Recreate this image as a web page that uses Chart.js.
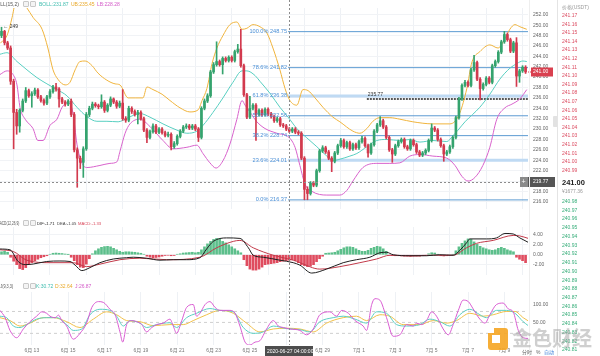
<!DOCTYPE html>
<html><head><meta charset="utf-8">
<script src="https://cdn.jsdelivr.net/npm/chart.js@4/dist/chart.umd.min.js"></script>
<style>
body{margin:0;width:600px;height:356px;overflow:hidden;background:#fff;position:relative;font-family:"Liberation Sans","Noto Sans CJK SC",sans-serif}
canvas{position:absolute;left:0}
.t{position:absolute;font-size:10px;line-height:12px;white-space:nowrap;transform-origin:0 0}
.ic{position:absolute;width:4px;height:4px;border:1px solid #c8c8c8;border-radius:1px;background:#f4f4f4}
</style></head><body>
<canvas id="main" width="557" height="217" style="top:0px"></canvas>
<canvas id="macd" width="557" height="64" style="top:219px"></canvas>
<canvas id="kdj" width="557" height="72" style="top:284px"></canvas>
<div id="overlay"></div>
<script>
// ---------------- DATA ----------------
const dateTickIdx = [10,22,34,46,58,70,82,94,106,118,130,142,154,166];
const dateLabels = ['6月 13','6月 15','6月 17','6月 19','6月 21','6月 23','6月 25','6月 27','6月 29','7月 1','7月 3','7月 5','7月 7','7月 9'];
const mainTicks = [216,218,220,222,224,226,228,230,232,234,236,238,240,242,244,246,248,250,252];
const macdTicks = [-2,0,2,4];
const kdjTicks = [50,100];
const kdjLevels = [20,50,80];

const opens = [248.0,248.8,246.6,245.6,239.2,233.2,230.6,233.6,235.4,237.4,
236.4,236.8,237.5,236.2,235.5,235.0,236.2,237.2,238.1,237.7,
235.8,235.2,234.8,235.4,232.8,226.0,224.4,223.6,226.2,232.8,
234.0,234.8,234.5,234.3,235.2,233.6,234.6,235.8,235.2,234.4,
235.0,232.0,231.7,234.0,233.4,232.8,233.2,232.0,229.8,228.4,
229.5,230.6,229.4,230.0,229.3,228.8,229.0,226.6,227.2,228.6,
229.6,230.4,230.6,230.2,230.6,230.0,228.4,234.0,235.4,236.4,
241.0,242.4,243.0,242.4,243.6,243.2,243.8,243.2,244.9,245.4,
242.2,236.6,232.3,234.0,234.6,232.8,233.6,232.8,233.8,232.9,
232.4,231.6,232.0,230.8,230.6,230.0,229.6,230.0,229.4,229.2,
224.4,218.4,217.6,219.6,219.2,222.0,225.8,226.4,225.6,224.4,
223.8,225.4,226.8,227.8,226.6,227.4,226.2,227.0,226.4,227.6,
228.2,226.8,225.4,227.0,229.6,230.8,231.6,230.4,228.4,226.0,
225.2,226.8,227.6,228.0,226.6,226.2,227.8,227.0,225.6,225.0,
225.4,225.9,227.8,230.2,229.8,228.0,226.8,225.2,225.6,226.6,
228.4,232.2,235.8,238.4,239.0,238.4,241.4,242.8,239.6,237.8,
238.6,239.8,239.0,242.2,243.0,244.8,246.8,248.2,247.2,245.0,
246.6,240.2,241.2,241.9];
const closes = [248.8,246.6,245.6,239.2,233.2,230.6,233.6,235.4,237.4,236.4,
236.8,237.5,236.2,235.5,235.0,236.2,237.2,238.1,237.7,235.8,
235.2,234.8,235.4,232.8,226.0,224.4,223.6,226.2,232.8,234.0,
234.8,234.5,234.3,235.2,233.6,234.6,235.8,235.2,234.4,235.0,
232.0,231.7,234.0,233.4,232.8,233.2,232.0,229.8,228.4,229.5,
230.6,229.4,230.0,229.3,228.8,229.0,226.6,227.2,228.6,229.6,
230.4,230.6,230.2,230.6,230.0,228.4,234.0,235.4,236.4,241.0,
242.4,243.0,242.4,243.6,243.2,243.8,243.2,244.9,245.4,242.2,
236.6,232.3,234.0,234.6,232.8,233.6,232.8,233.8,232.9,232.4,
231.6,232.0,230.8,230.6,230.0,229.6,230.0,229.4,229.2,224.4,
218.4,217.6,219.6,219.2,222.0,225.8,226.4,225.6,224.4,223.8,
225.4,226.8,227.8,226.6,227.4,226.2,227.0,226.4,227.6,228.2,
226.8,225.4,227.0,229.6,230.8,231.6,230.4,228.4,226.0,225.2,
226.8,227.6,228.0,226.6,226.2,227.8,227.0,225.6,225.0,225.4,
225.9,227.8,230.2,229.8,228.0,226.8,225.2,225.6,226.6,228.4,
232.2,235.8,238.4,239.0,238.4,241.4,242.8,239.6,237.8,238.6,
239.8,239.0,242.2,243.0,244.8,246.8,248.2,247.2,245.0,246.6,
240.2,241.2,241.9,241.0];
const highs = [249.6,249.0,246.9,246.0,239.6,233.8,233.9,235.8,238.0,237.7,
237.2,237.9,237.8,236.5,235.8,236.5,237.6,238.4,238.8,238.0,
236.1,235.5,235.7,235.8,233.2,226.4,224.8,226.6,233.2,234.4,
235.2,235.1,234.8,236.6,235.5,234.9,236.2,236.0,235.5,235.4,
237.6,232.4,234.4,234.3,233.7,233.6,233.5,232.3,230.1,229.8,
231.0,230.9,230.3,230.3,229.6,229.4,229.3,227.6,228.9,229.9,
230.7,231.0,230.9,230.9,230.9,230.3,234.3,235.8,236.8,241.3,
242.8,246.8,243.3,243.9,243.9,244.1,244.1,245.2,246.3,249.2,
242.5,236.9,236.3,234.9,234.9,233.9,233.9,234.1,234.1,233.2,
232.7,232.3,232.3,231.1,230.9,230.3,230.3,230.3,229.7,229.5,
224.7,218.9,219.9,219.9,222.3,226.1,226.8,226.7,225.9,224.7,
225.7,227.1,228.2,228.1,227.7,227.7,227.3,227.3,227.9,228.6,
228.5,227.1,227.3,229.9,231.1,232.4,231.9,230.7,228.7,226.3,
227.1,227.9,228.3,228.3,226.9,228.1,228.1,227.3,225.9,225.7,
226.2,228.1,231.0,230.5,230.1,228.3,227.1,225.9,226.9,228.7,
232.5,236.1,238.7,239.4,239.3,241.7,244.2,243.1,239.9,238.9,
240.1,240.1,242.5,243.3,245.1,247.1,248.8,248.5,247.5,246.9,
247.6,241.5,242.2,242.2];
const lows = [247.6,246.2,245.3,238.6,226.2,229.0,229.4,233.3,235.1,236.1,
234.2,236.5,235.9,235.2,234.6,234.7,235.9,236.9,237.3,234.2,
234.9,234.4,234.5,232.4,225.6,218.8,222.4,220.7,225.9,232.4,
233.7,234.2,233.9,234.0,233.2,233.3,234.3,234.9,234.0,234.1,
231.7,231.3,231.4,233.0,232.5,231.0,231.7,229.5,227.4,228.1,
229.2,229.1,229.1,229.0,228.5,228.5,226.0,226.3,226.9,228.3,
229.3,230.1,229.9,229.9,229.7,227.6,228.1,233.7,235.1,236.1,
240.7,242.1,242.1,240.6,242.9,242.9,242.9,242.9,244.6,241.9,
236.3,232.0,232.0,233.7,227.8,232.5,232.5,232.5,232.6,232.1,
231.3,231.3,230.5,230.3,229.7,229.3,229.3,229.1,228.9,224.1,
216.4,216.4,217.3,218.9,218.9,221.7,225.5,225.3,224.1,221.8,
223.5,225.1,226.5,226.3,226.3,225.9,225.9,226.1,226.1,227.3,
226.5,224.6,225.1,226.7,229.3,230.5,230.1,228.1,225.7,223.6,
224.9,226.5,227.3,226.3,225.9,225.9,226.7,225.3,224.7,224.7,
225.1,225.6,227.5,229.5,227.7,226.5,223.8,224.9,225.3,226.3,
228.1,231.9,235.5,238.1,238.1,238.1,241.1,239.3,235.6,237.5,
238.3,238.7,238.7,241.9,242.7,244.5,246.5,246.9,244.7,244.7,
238.2,239.0,240.9,240.7];

// Bollinger bands: [candle index, price]
const bollUpper = [[-0.5,246.5],[1.8,248.0],[3.5,251.5],[4.5,254.2],[6.1,255.0],[8.4,253.3],[10.4,251.5],[13.4,249.2],[15.3,245.6],[17,241.4],[18.6,239.6],[21,238.5],[22.6,239.0],[24.3,241.4],[25.9,243.0],[27.6,243.1],[29.9,242.2],[31.8,240.8],[34.8,239.4],[37.5,238.7],[39.1,238.5],[41.8,236.0],[44.1,236.0],[46.7,236.0],[48,238.1],[50,237.6],[53,236.7],[55.6,235.5],[58.9,234.1],[62.2,233.3],[64.9,233.7],[66.2,235.5],[67.8,237.8],[69.5,242.6],[71.1,245.6],[73.1,248.0],[75.4,250.1],[77.7,250.6],[79.4,249.2],[81,249.4],[83,250.1],[85.3,249.7],[87.6,248.5],[89.6,245.6],[91.9,241.4],[93.6,237.8],[95.2,235.5],[97.5,234.6],[99.5,237.6],[101.2,237.4],[103.5,236.0],[106.1,234.2],[109.4,232.3],[111.7,231.4],[116,229.6],[118.3,229.2],[120.6,230.1],[122.6,231.5],[124.9,232.2],[128.2,232.2],[131.5,231.9],[135.8,231.4],[142.4,231.0],[148,231.0],[149.7,231.5],[151.3,233.1],[153.6,237.8],[155.3,242.9],[157.9,244.9],[161.2,246.2],[163.9,245.6],[166.2,247.4],[167.8,249.2],[169.5,250.1],[171.1,249.7],[173.4,249.2]];
const bollMid = [[-0.5,244.4],[1.8,244.7],[5.1,243.0],[8.4,241.4],[11.7,239.9],[15,238.7],[18.3,237.6],[21.6,236.4],[24.9,234.2],[28.2,232.4],[31.5,231.5],[34.8,231.5],[38.5,231.4],[41.8,232.2],[45.7,233.0],[49,232.3],[53.3,231.0],[57.9,229.8],[61.2,229.2],[64.5,229.6],[66.5,230.7],[69.8,233.2],[73.1,236.0],[76.4,239.0],[79.4,241.2],[81,241.2],[83.7,240.3],[85.3,239.2],[88.6,236.9],[91.9,234.2],[94.6,232.3],[97.5,230.1],[100.8,228.3],[104.1,226.6],[107.4,224.8],[109.4,223.9],[111.7,224.2],[115,224.8],[117.3,225.3],[120.6,226.6],[123.9,227.8],[127.2,228.0],[131.5,227.8],[134.8,228.0],[138.1,227.5],[142.4,227.8],[147,227.6],[149,228.7],[150.7,229.8],[153,231.4],[157.9,234.2],[161.2,236.7],[164.5,239.6],[167.8,241.7],[170.1,242.6],[172.1,243.1],[173.4,243.0]];
const bollLower = [[-0.5,240.5],[1.8,241.2],[3.8,240.5],[5.1,238.5],[6.1,234.2],[7.8,231.9],[10.4,230.1],[12,227.8],[13.7,227.8],[16,230.7],[18.3,231.9],[20,234.2],[22,235.1],[23.6,233.1],[24.9,227.1],[26.6,223.4],[28.2,222.6],[32.5,223.0],[35.8,223.4],[38.1,223.7],[39.1,225.7],[40.8,229.2],[42.4,231.0],[45.7,231.9],[49,230.5],[53.3,227.8],[56.6,226.2],[61.2,226.5],[64.5,226.9],[66.5,225.3],[68.8,223.5],[70.8,222.5],[73.1,223.9],[75.4,227.1],[77.7,231.9],[79.4,235.5],[80.4,234.6],[82,233.3],[84.3,231.4],[87,230.1],[90.9,229.2],[94.9,228.4],[96.9,226.5],[98.5,223.0],[100.2,219.4],[102.5,218.0],[107.4,217.3],[111.7,217.3],[114,218.2],[116,220.0],[119.3,222.6],[123.9,223.4],[128.2,223.4],[131.5,223.5],[134.8,224.8],[138.1,225.1],[142.4,224.8],[147,224.4],[149.7,223.0],[152,220.9],[154,220.0],[156.3,220.7],[158.9,223.0],[161.2,226.5],[163.5,231.9],[166.2,234.1],[168.5,234.8],[171.1,235.8],[173.4,237.6]];

// Fibonacci retracement
const fibPct = ['100.0%','78.6%','61.8%','50.0%','38.2%','23.6%','0.0%'];
const fibVal = [248.75,241.82,236.38,232.56,228.74,224.01,216.37];
const fibWide = [false,false,true,false,false,true,false];
const FIB_START = 94.6;
const MARK_VAL = 235.77, MARK_START = 120.6;
const CROSS_IDX = 95, CROSS_PRICE = 219.77, LAST_PRICE = 241.00;

// MACD
const macdHist = [0.6,0.7,0.5,
-0.5,-1.3,-2.0,-2.8,-3.0,-2.6,-2.0,-1.6,-1.2,-0.9,-0.6,-0.4,-0.2,
0.1,0.3,0.35,0.3,0.25,0.15,0.05,
-0.5,-1.2,-2.0,-2.5,-2.6,-1.9,-0.8,
0.2,0.8,1.2,1.5,1.65,1.7,1.6,1.3,1.0,0.7,0.5,0.6,0.6,0.55,0.5,0.4,0.3,0.1,
-0.3,-0.5,-0.6,-0.55,-0.45,-0.3,-0.15,-0.1,-0.2,-0.15,
0.1,0.2,0.35,0.4,0.45,0.5,0.4,0.5,1.0,1.6,2.2,2.7,3.1,3.3,3.2,2.7,2.4,2.0,1.6,1.2,0.8,0.4,
-1.0,-2.2,-2.9,-3.1,-3.1,-2.9,-2.5,-2.0,-1.9,-1.8,-1.7,-1.6,-1.4,-1.3,-1.2,-1.1,-1.0,-1.2,
-1.6,-2.0,-2.2,-2.4,-2.3,-2.0,-1.4,-0.8,-0.3,
0.3,0.35,0.4,0.5,0.8,1.1,1.4,1.6,1.6,1.5,1.2,0.9,0.7,0.7,0.9,1.3,1.5,1.7,1.6,1.2,0.7,
-0.1,-0.15,-0.2,-0.2,-0.25,-0.3,-0.3,-0.35,-0.3,-0.3,-0.3,-0.2,-0.1,
0.2,0.4,0.35,0.1,
-0.2,-0.25,-0.2,-0.1,
0.1,0.8,1.6,2.3,2.8,3.2,3.1,2.6,2.1,1.7,1.4,1.2,1.0,0.9,1.0,1.3,1.5,1.3,1.0,0.8,0.6,
-0.5,-0.9,-1.2,-1.6];
const macdDif = [[-0.5,1.16],[2.8,1.0],[5.5,-1.36],[7.8,-2.0],[10.5,-1.87],[14.9,-1.36],[19.3,-1.26],[22.6,-1.36],[24.3,-2.1],[26.5,-3.2],[29.2,-2.6],[32.5,-1.6],[36.9,-0.86],[41.3,-0.6],[43.5,-0.5],[47.9,-0.7],[52.3,-1.1],[56.7,-1.0],[61.1,-1.0],[65.5,-0.6],[67.7,1.16],[69.9,2.7],[74.3,3.4],[78.7,3.3],[81.5,1.4],[83.1,-0.1],[86.4,-0.5],[91.9,-1.1],[96.3,-1.6],[98.5,-2.1],[102.4,-3.7],[107.3,-2.9],[112.8,-1.6],[117.2,-1.0],[121.6,-0.5],[124.9,0.4],[127.1,0.5],[129.3,0.0],[134.8,-0.2],[140.3,-0.2],[144.7,0.0],[149.1,-0.1],[151.3,0.9],[153.5,2.4],[154.6,3.2],[160.1,3.2],[163.4,3.4],[166.2,4.3],[168.9,4.2],[171.1,3.4],[173.9,2.5]];
const macdDea = [[-0.5,1.0],[3.9,0.66],[8.3,-1.1],[16,-1.6],[23.7,-1.6],[28.1,-2.4],[32.5,-1.9],[39.1,-1.0],[45.7,-0.7],[54.5,-1.0],[65.5,-0.5],[71,1.4],[76.5,2.7],[78.7,2.9],[83.1,1.4],[89.7,-0.1],[96.3,-1.1],[98.5,-1.6],[105.1,-2.9],[111.7,-2.4],[118.3,-1.6],[123.8,-0.86],[128.2,-0.1],[134.8,-0.2],[142.5,-0.1],[149.1,-0.1],[153.5,1.4],[156.8,2.3],[162.3,2.9],[168.9,3.9],[171.1,3.8],[173.9,3.3]];

// KDJ
const kdjK = [[-0.5,67],[1.7,63],[3.9,40],[6.1,36],[8.3,44],[11.6,59],[14.9,63],[18.2,63],[21.5,44],[23.7,28],[26.5,32],[29.2,71],[32.5,86],[35.8,83],[38,67],[40.2,40],[42.4,55],[45.7,48],[47.9,36],[51.2,44],[55.6,49],[57.8,36],[61.1,63],[64.4,75],[68.8,88],[72.1,83],[76.5,79],[79.8,36],[83.1,20],[86.4,24],[89.7,40],[94.1,33],[98.5,30],[101.8,24],[105.1,52],[109.5,63],[112.8,67],[116.7,59],[120.5,48],[123.8,79],[127.1,75],[130.4,44],[133.7,40],[138.1,44],[141.4,59],[144.7,52],[148,40],[151.3,71],[154.6,86],[157.9,71],[160.1,63],[163.4,83],[166.7,83],[169.5,75],[172.2,52],[173.9,41]];
const kdjD = [[-0.5,63],[2.8,55],[6.1,40],[9.4,48],[13.8,63],[17.1,63],[21.5,52],[25.9,36],[30.3,59],[34.7,79],[38,71],[41.3,55],[45.7,52],[50.1,41],[55.6,44],[60,44],[63.3,55],[67.7,71],[72.1,83],[76.5,75],[80.9,48],[85.3,24],[89.7,32],[94.1,34],[98.5,32],[102.9,24],[107.3,48],[112.8,63],[117.2,67],[120.5,55],[124.9,71],[128.2,67],[132.6,44],[138.1,44],[142.5,55],[146.9,48],[150.2,55],[154.6,75],[159,67],[162.3,71],[166.7,80],[169.5,80],[172.2,63],[173.9,54]];
const kdjJ = [[-0.5,83],[1.2,63],[2.8,28],[5,8],[7.2,32],[9.4,52],[11.6,67],[13.3,79],[14.9,75],[16,67],[17.7,63],[18.8,70],[19.9,55],[21.5,40],[23.7,4],[25.9,20],[28.1,48],[29.8,91],[32,107],[33.6,105],[35.8,86],[37.5,71],[39.1,24],[40,-4],[41.3,44],[43,55],[44.6,52],[46.3,44],[47.9,24],[49.6,36],[51.2,44],[53.4,48],[55.6,59],[56.7,40],[57.8,20],[59.5,55],[61.1,91],[63.3,99],[64.4,67],[65.5,75],[67.2,99],[68.8,107],[70.5,91],[72.1,83],[75.4,83],[77.1,75],[78.7,40],[80.4,-4],[82,-12],[83.7,-4],[85.3,0],[87.5,32],[89.7,55],[91.4,40],[93,36],[95.2,32],[98.5,28],[100.7,16],[102.9,32],[105.1,71],[108.4,79],[110.6,67],[112.3,83],[114.5,75],[116.7,55],[119.4,40],[120.5,28],[122.2,99],[123.3,115],[124.9,111],[127.1,63],[129.3,12],[131.5,16],[133.7,44],[135.9,40],[137,48],[138.7,44],[140.3,55],[142,79],[143.6,67],[145.8,32],[147.5,16],[149.1,44],[150.8,83],[152.4,111],[154.1,107],[155.7,87],[157.9,59],[159.6,48],[161.2,71],[163.4,99],[165.6,103],[167.3,87],[168.9,79],[170.6,28],[172.2,8],[173.9,6]];

// order book
const askPrices = ['241.17','241.16','241.15','241.14','241.13','241.12','241.11','241.10','241.09','241.08','241.07','241.06','241.05','241.04','241.03','241.02','241.01','241.00','240.99'];
const bidPrices = ['240.98','240.97','240.96','240.95','240.94','240.93','240.92','240.91','240.90','240.89','240.88','240.87','240.86','240.85','240.84','240.83','240.82','240.81'];

// ---------------- STYLE / SETUP ----------------
const FONT = '"Liberation Sans","Noto Sans CJK SC",sans-serif';
Chart.defaults.font.family = FONT;
Chart.defaults.font.size = 5;
Chart.defaults.color = '#666';
const UP = '#35a36e', DOWN = '#d23a4e';
const X_MIN = -0.5, X_MAX = 173.8;

const xAxis = (show) => ({
  type: 'linear', min: X_MIN, max: X_MAX, offset: false,
  afterBuildTicks: s => { s.ticks = dateTickIdx.map(v => ({ value: v })); },
  afterFit: s => { s.height = show ? 11 : 0; },
  grid: { color: '#eef1f5', lineWidth: 1, drawTicks: false },
  border: { display: false },
  ticks: { display: show, autoSkip: false, maxRotation: 0, padding: 3, color: '#777', font: { size: 5 },
    callback: (v) => { const k = dateTickIdx.indexOf(v); return k >= 0 ? dateLabels[k] : ''; } }
});
const yAxis = (min, max, ticks, fmt, gridColor) => ({
  position: 'right', min, max,
  afterBuildTicks: s => { s.ticks = ticks.map(v => ({ value: v })); },
  afterFit: s => { s.width = 29; },
  grid: { color: gridColor, drawTicks: false },
  border: { display: false },
  ticks: { padding: 5, color: '#666', font: { size: 5 }, callback: fmt }
});
const base = (scales) => ({
  responsive: false, animation: false, devicePixelRatio: 1, events: [],
  layout: { padding: 0 },
  plugins: { legend: { display: false }, tooltip: { enabled: false } },
  scales
});
const line = (pairs, color, order, w) => ({
  type: 'line', data: pairs.map(([x, y]) => ({ x, y })), borderColor: color, borderWidth: w || 1,
  pointRadius: 0, fill: false, cubicInterpolationMode: 'monotone', order
});
const crossLine = (chart, bottom) => {
  const { ctx, scales: { x } } = chart;
  const cx = Math.round(x.getPixelForValue(CROSS_IDX)) + 0.5;
  ctx.save(); ctx.strokeStyle = '#8c8c8c'; ctx.lineWidth = 1; ctx.setLineDash([2, 2]);
  ctx.beginPath(); ctx.moveTo(cx, 0); ctx.lineTo(cx, bottom); ctx.stroke(); ctx.restore();
};

// ---------------- MAIN ----------------
const candleColors = closes.map((c, i) => c >= opens[i] ? UP : DOWN);
const mainDeco = {
  id: 'mainDeco',
  afterDatasetsDraw(chart) {
    const { ctx, chartArea: ca, scales: { x, y } } = chart;
    crossLine(chart, chart.height);
    ctx.save();
    ctx.strokeStyle = '#8c8c8c'; ctx.lineWidth = 1; ctx.setLineDash([2, 2]);
    const cy = Math.round(y.getPixelForValue(CROSS_PRICE)) + 0.5;
    ctx.beginPath(); ctx.moveTo(ca.left, cy); ctx.lineTo(ca.right, cy); ctx.stroke();
    ctx.setLineDash([]);
    ctx.font = '5.6px ' + FONT; ctx.fillStyle = '#4a8fd6'; ctx.textAlign = 'right'; ctx.textBaseline = 'middle';
    const fx = x.getPixelForValue(FIB_START) - 1;
    fibPct.forEach((p, k) => ctx.fillText(p + ' ' + fibVal[k].toFixed(2), fx, y.getPixelForValue(fibVal[k])));
    ctx.font = '5px ' + FONT; ctx.fillStyle = '#333'; ctx.textAlign = 'left'; ctx.textBaseline = 'bottom';
    ctx.fillText(MARK_VAL.toFixed(2), x.getPixelForValue(MARK_START) + 1, y.getPixelForValue(MARK_VAL) - 2);
    ctx.textBaseline = 'middle';
    ctx.fillText('← 249', x.getPixelForValue(0.6), y.getPixelForValue(highs[0]) - 1);
    ctx.restore();
  },
  afterDraw(chart) {
    const { ctx, chartArea: ca, scales: { y } } = chart;
    ctx.save();
    ctx.font = '5px ' + FONT; ctx.textBaseline = 'middle'; ctx.textAlign = 'left';
    const ly = Math.round(y.getPixelForValue(LAST_PRICE));
    ctx.fillStyle = '#d9404f';
    ctx.fillRect(ca.right, ly - 0.5, 3, 1);
    ctx.fillRect(ca.right + 3, ly - 4.5, 22, 9);
    ctx.fillStyle = '#fff'; ctx.fillText(LAST_PRICE.toFixed(2), ca.right + 5, ly);
    const cy = Math.round(y.getPixelForValue(CROSS_PRICE));
    ctx.fillStyle = '#8a8a8a'; ctx.fillRect(ca.right - 8, cy - 5, 8, 10);
    ctx.fillStyle = '#555'; ctx.fillRect(ca.right, cy - 5, 27, 10);
    ctx.fillStyle = '#fff'; ctx.font = '7px ' + FONT; ctx.fillText('+', ca.right - 6.5, cy);
    ctx.font = '5px ' + FONT; ctx.fillText(CROSS_PRICE.toFixed(2), ca.right + 5, cy);
    ctx.restore();
  }
};
const fibSets = fibVal.map((v, k) => ({
  type: 'line', data: [{ x: FIB_START, y: v }, { x: X_MAX, y: v }],
  borderColor: fibWide[k] ? '#bfdaf3' : '#5d9bd2', borderWidth: fibWide[k] ? 3 : 1,
  pointRadius: 0, order: 9
}));
new Chart(document.getElementById('main'), {
  type: 'bar',
  data: { datasets: [
    { data: opens.map((o, i) => ({ x: i, y: [o, closes[i]] })), backgroundColor: candleColors,
      barThickness: 2, minBarLength: 1, grouped: false, order: 1 },
    { data: lows.map((l, i) => ({ x: i, y: [l, highs[i]] })), backgroundColor: candleColors,
      barThickness: 1, grouped: false, order: 2 },
    line(bollUpper, '#f0b43c', 5), line(bollMid, '#58cfc1', 5), line(bollLower, '#d862cc', 5),
    ...fibSets,
    { type: 'line', data: [{ x: MARK_START, y: MARK_VAL }, { x: X_MAX, y: MARK_VAL }], borderColor: '#222',
      borderWidth: 1.5, borderDash: [2, 1], pointRadius: 0, order: 8 }
  ] },
  options: base({ x: xAxis(false), y: yAxis(214.62, 253.3, mainTicks, v => v.toFixed(2), '#f1f3f6') }),
  plugins: [mainDeco]
});

// ---------------- MACD ----------------
new Chart(document.getElementById('macd'), {
  type: 'bar',
  data: { datasets: [
    { data: macdHist.map((v, i) => ({ x: i, y: v })), backgroundColor: macdHist.map(v => v >= 0 ? '#5cbf8b' : '#df4c5f'),
      barThickness: 2, grouped: false, order: 3 },
    line(macdDif, '#1f1f1f', 1), line(macdDea, '#c23a4a', 2)
  ] },
  options: base({ x: xAxis(false), y: yAxis(-4.09, 5.606, macdTicks, v => v.toFixed(2), '#f1f3f6') }),
  plugins: [{ id: 'cx', afterDatasetsDraw: c => crossLine(c, c.height) }]
});

// ---------------- KDJ ----------------
new Chart(document.getElementById('kdj'), {
  type: 'line',
  data: { datasets: [
    ...kdjLevels.map(v => ({ data: [{ x: X_MIN, y: v }, { x: X_MAX, y: v }], borderColor: '#cfcfcf', borderWidth: 1,
      borderDash: [3, 3], pointRadius: 0, order: 9 })),
    line(kdjK, '#5ccfc3', 2), line(kdjD, '#f1c04a', 3), line(kdjJ, '#d95cd2', 1)
  ] },
  options: base({ x: xAxis(true), y: yAxis(-11.9, 133.3, kdjTicks, v => v.toFixed(2), 'rgba(0,0,0,0)') }),
  plugins: [{ id: 'cx', afterDatasetsDraw: c => crossLine(c, c.chartArea.bottom) }]
});

// ---------------- HTML overlays (text drawn at 10px and scaled down) ----------------
const ov = document.getElementById('overlay');
const add = (html) => ov.insertAdjacentHTML('beforeend', html);
const txt = (x, y, s, col, sx, sy, extra) =>
  add(`<div class="t" style="left:${x}px;top:${y}px;color:${col};transform:scale(${sx || 0.5},${sy || sx || 0.5});${extra || ''}">${s}</div>`);
const legend = (top, items, lead, sc) => {
  txt(lead[1], top, lead[0], '#555', lead[2], 0.5);
  add(`<div class="ic" style="left:23px;top:${top}px"></div><div class="ic" style="left:30px;top:${top}px"></div>`);
  items.forEach(([s, x, col]) => txt(x, top + (sc < 0.5 ? 0.5 : 0), s, col, sc, sc));
};
legend(1, [['BOLL:231.87', 39, '#3fbcae'], ['UB:235.45', 71, '#e9a92a'], ['LB:228.28', 97, '#d35bc8']], ['BOLL(15,2)', -7, 0.5], 0.5);
legend(220, [['DIF:-1.71', 37, '#222'], ['DEA:-1.05', 57, '#444'], ['MACD:-1.33', 78, '#d9475a']], ['MACD(12,26,9)', -2.7, 0.32], 0.42);
legend(283, [['K:30.72', 36, '#3fbcae'], ['D:32.64', 55, '#e9a92a'], ['J:26.87', 75, '#d35bc8']], ['KDJ(9,3,3)', -5.3, 0.38], 0.5);

// separators
add('<div style="position:absolute;left:529px;top:0;width:1px;height:356px;background:#eeeeee"></div>');
add('<div style="position:absolute;left:557px;top:0;width:1px;height:356px;background:#e4e4e4"></div>');
add('<div style="position:absolute;left:553px;top:116px;width:4px;height:11px;background:#e2e2e2;border-radius:1px 0 0 1px"></div>');

// order book
txt(562, 4, '价格(USDT)', '#9a9a9a');
askPrices.forEach((p, k) => txt(562, (12 + k * 8.6).toFixed(1), p, '#dc4d62'));
txt(562, 178, '241.00', '#222', 0.5, 0.5, 'font-size:15px;line-height:18px;font-weight:bold');
txt(562, 188, '¥1677.36', '#999');
bidPrices.forEach((p, k) => txt(562, (198 + k * 8.72).toFixed(1), p, '#36ad79'));

// crosshair time label
add('<div style="position:absolute;left:265px;top:346px;width:48px;height:10px;background:#4d4d4d"></div>');
txt(266.5, 348, '2020-06-27 04:00:00', '#fff');
// bottom right controls
txt(522, 349, '分时', '#666');
txt(536, 349, '%', '#666');
txt(544, 349, '自动', '#3d7fd9');
// watermark
add('<div style="position:absolute;left:488px;top:328px;width:20px;height:22px;background:#f5a623;border-radius:3px;opacity:0.9"><div style="position:absolute;left:4px;top:7px;width:8px;height:8px;background:#fff"></div><div style="position:absolute;left:0;top:0;width:6px;height:5px;background:#fff"></div></div>');
add('<div style="position:absolute;left:512px;top:325px;font-size:20px;line-height:26px;font-family:\'Noto Sans CJK SC\';font-weight:bold;color:rgba(160,160,160,0.5);white-space:nowrap">金色财经</div>');
</script>
</body></html>
